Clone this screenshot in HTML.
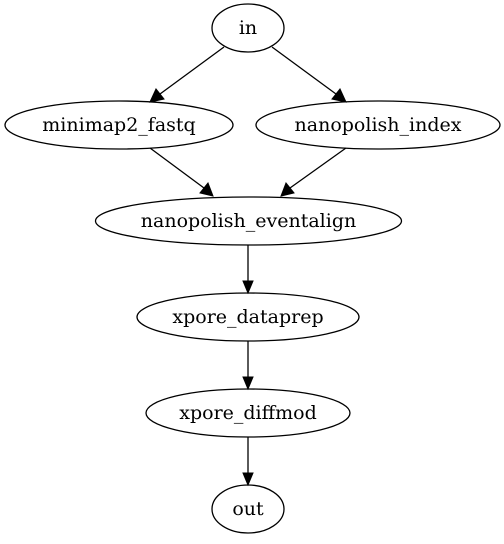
<!DOCTYPE html>
<html><head><meta charset="utf-8"><style>html,body{margin:0;padding:0;background:#fff}</style></head>
<body>
<svg width="504" height="539" viewBox="0 0 504 539" xmlns="http://www.w3.org/2000/svg">
<g fill="none" stroke="#000" stroke-width="1.3">
<ellipse cx="248" cy="28" rx="36" ry="24"/>
<ellipse cx="119" cy="125" rx="114" ry="24"/>
<ellipse cx="378" cy="125" rx="122" ry="24"/>
<ellipse cx="248.5" cy="221" rx="153" ry="24"/>
<ellipse cx="248" cy="317" rx="111" ry="24"/>
<ellipse cx="248" cy="413" rx="102" ry="24"/>
<ellipse cx="248" cy="509" rx="36" ry="24"/>
<path d="M224,47 L160,94"/>
<path d="M272,47 L336,94"/>
<path d="M150,148 L204,188"/>
<path d="M346,148 L290,188"/>
<path d="M248,245 L248,282"/>
<path d="M248,341 L248,378"/>
<path d="M248,437 L248,474"/>
</g>
<g fill="#000" stroke="#000">
<polygon points="150,102 156,89 164,99"/>
<polygon points="346,102 332,99 340,89"/>
<polygon points="213,196 200,193 208,183"/>
<polygon points="281,196 286,183 294,193"/>
<polygon points="248,293 243,281 253,281"/>
<polygon points="248,389 243,377 253,377"/>
<polygon points="248,485 243,473 253,473"/>
</g>
<g font-family="DejaVu Serif, serif" font-size="19" text-anchor="middle">
<text x="248" y="34">in</text>
<text x="119" y="131">minimap2_fastq</text>
<text x="378" y="131">nanopolish_index</text>
<text x="248.5" y="227">nanopolish_eventalign</text>
<text x="248" y="323">xpore_dataprep</text>
<text x="248" y="419">xpore_diffmod</text>
<text x="248" y="515">out</text>
</g>
</svg>
</body></html>
